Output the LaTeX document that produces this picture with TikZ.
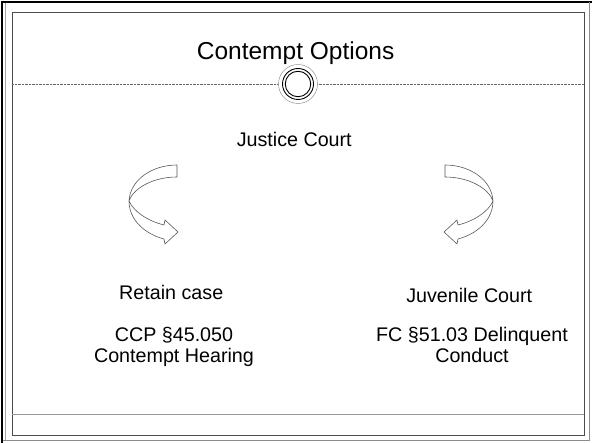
\documentclass[tikz,border=0pt]{standalone}
\usepackage{fontspec}
\setmainfont{Liberation Sans}
\usetikzlibrary{positioning}

\begin{document}
\begin{tikzpicture}[x = 1pt, y = -1pt,
    every node/.style = { align = center, inner sep = 0pt },
    heading/.style = { font = \fontsize{24.5}{28}\selectfont },
    court/.style = { font = \fontsize{19.7}{20.5}\selectfont },
    ring/.style = { draw, shape = circle, line width = .9pt },
    turnarrow/.style = { draw = black!65, fill = white, line width = .6pt, line join = round } ]
  \useasboundingbox (0,0) rectangle (592,443);

  % slide frame
  \draw [black, line width = 2pt] (2,443) -- (2,2) -- (592,2);
  \draw [black!45, line width = .8pt] (589.5,2) -- (589.5,440.5) -- (3,440.5);
  \draw [black!35, line width = .5pt] (5,3) -- (5,440);
  \draw [black!70, line width = .8pt] (12,12) rectangle (584,435);
  \draw [black!40, line width = 1pt] (12,415) -- (584,415);
  \draw [black!60, line width = .4pt, densely dotted] (12,84) -- (584,84);

  \node [draw = black!50, fill = white, shape = circle, line width = .4pt,
         minimum size = 39pt] (knot) at (298,84) {};
  \node [ring, minimum size = 31pt] (knotout) at (knot) {};
  \node [ring, minimum size = 25.5pt] (knotin) at (knot) {};

  \node [heading, anchor = base] (title) at (299,60) { Contempt Options };
  \node [court, anchor = base] (justice) at (297,147) { Justice Court };

  \node [court, anchor = base] (retain) at (174,300) { Retain case };
  \node [court, below = 27pt of retain] (ccp) { CCP §45.050 \\ Contempt Hearing };

  \node [court, anchor = base] (juvenile) at (472,303) { Juvenile Court };
  \node [court, below = 24pt of juvenile] (fc) { FC §51.03 Delinquent \\ Conduct };

  % curved arrows, right one mirrored
  \foreach \flip/\shift in {1/0, -1/622} {
    \begin{scope}[xshift = \shift pt, xscale = \flip]
      \draw [turnarrow] (177,165) .. controls (152,165) and (130,180) .. (129,201)
        .. controls (129,220) and (145,234) .. (164,239)
        -- (165,244) -- (178,232) -- (165,220) -- (164,225)
        .. controls (148,221) and (134,212) .. (129,201)
        .. controls (133,189) and (152,177) .. (177,177) -- cycle;
    \end{scope}
  }
\end{tikzpicture}
\end{document}
